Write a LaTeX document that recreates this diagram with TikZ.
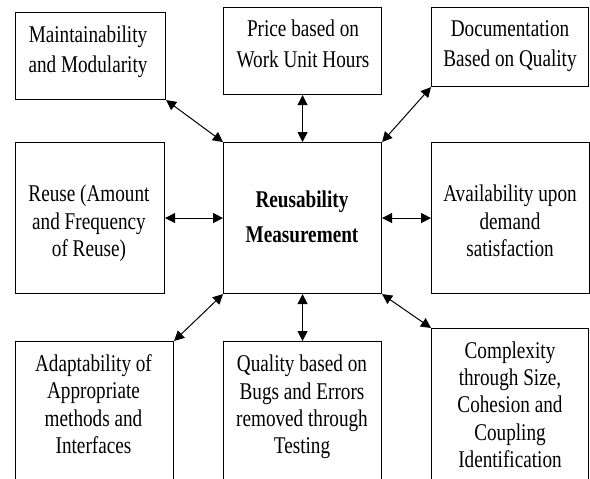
\documentclass[tikz,border=0pt]{standalone}
\usepackage{fontspec}
\setmainfont{Liberation Serif}[FakeStretch=0.8]
\newfontfamily\labelfont{Liberation Serif}[FakeStretch=0.8]
\usetikzlibrary{arrows.meta}
\begin{document}
\begin{tikzpicture}[x=1pt,y=-1pt,
  box/.style={draw, line width=1.1pt, inner sep=0pt, anchor=north west},
  lbl/.style={anchor=north, align=center, inner sep=0pt,
    font=\labelfont\fontsize{24}{27.3}\selectfont},
  toplbl/.style={lbl, font=\labelfont\fontsize{24}{30.5}\selectfont},
  mainlbl/.style={lbl, font=\labelfont\fontsize{24}{35}\selectfont\bfseries},
  link/.style={{Triangle[length=10pt,width=10pt]}-{Triangle[length=10pt,width=10pt]},
    line width=1pt}]
\useasboundingbox (0,0) rectangle (590,479);
\clip (0,0) rectangle (590,479);

% outer boxes
\node[box, minimum width=150pt, minimum height=87pt]  (m)  at (15,12)  {};
\node[box, minimum width=158pt, minimum height=87pt]  (p)  at (223,7)  {};
\node[box, minimum width=157pt, minimum height=79pt]  (d)  at (431,7)  {};
\node[box, minimum width=149pt, minimum height=151pt] (r)  at (15,142) {};
\node[box, minimum width=158pt, minimum height=151pt] (c)  at (223,142) {};
\node[box, minimum width=158pt, minimum height=151pt] (a)  at (431,142) {};
\node[box, minimum width=158pt, minimum height=170pt] (ad) at (15,341) {};
\node[box, minimum width=158pt, minimum height=170pt] (q)  at (223,341) {};
\node[box, minimum width=157pt, minimum height=180pt] (cx) at (431,328) {};

% box texts
\node[toplbl]  (mt)  at (88,25.5)   {Maintainability\\and Modularity};
\node[toplbl]  (pt)  at (303,20)    {Price based on\\Work Unit Hours};
\node[toplbl]  (dt)  at (510,20)    {Documentation\\Based on Quality};
\node[lbl]     (rt)  at (89,185)    {Reuse (Amount\\and Frequency\\of Reuse)};
\node[mainlbl] (ct)  at (302,190.5) {Reusability\\Measurement};
\node[lbl]     (at)  at (510,185)   {Availability upon\\demand\\satisfaction};
\node[lbl]     (adt) at (93.5,354.5) {Adaptability of\\Appropriate\\methods and\\Interfaces};
\node[lbl]     (qt)  at (302,355)   {Quality based on\\Bugs and Errors\\removed through\\Testing};
\node[lbl]     (cxt) at (510,341.5) {Complexity\\through Size,\\Cohesion and\\Coupling\\Identification};

% connectors to the central box
\draw[link] (m.south east)   -- (c.north west);
\draw[link] (p.south)        -- (c.north);
\draw[link] (d.south west)   -- (c.north east);
\draw[link] (r.east)         -- (c.west);
\draw[link] (c.east)         -- (a.west);
\draw[link] (ad.north east)  -- (c.south west);
\draw[link] (q.north)        -- (c.south);
\draw[link] (cx.north west)  -- (c.south east);
\end{tikzpicture}
\end{document}
